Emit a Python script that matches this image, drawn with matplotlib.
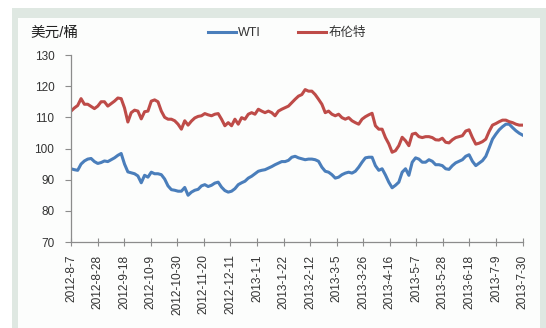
import matplotlib
matplotlib.use("Agg")
import matplotlib.pyplot as plt
from matplotlib.patches import Rectangle
import pandas as pd

plt.rcParams['font.family'] = ['Liberation Sans', 'Noto Sans CJK SC', 'DejaVu Sans']

# Daily closing prices (USD/bbl), evenly spaced samples over the period
start_date = "2012-08-07"
end_date = "2013-07-30"

wti = [
    93.5, 93.2, 93.0, 95.0, 96.0, 96.6, 96.8, 95.8, 95.2, 95.5,
    96.0, 95.8, 96.4, 97.0, 97.8, 98.4, 95.0, 92.5, 92.2, 91.9,
    91.2, 89.0, 91.4, 90.8, 92.4, 91.9, 91.9, 91.6, 90.2, 88.0,
    86.8, 86.6, 86.3, 86.3, 87.5, 85.0, 86.0, 86.6, 86.9, 88.0,
    88.4, 87.8, 88.2, 88.9, 89.2,
    87.6, 86.5, 86.0, 86.3, 87.1, 88.4, 89.0, 89.5, 90.5, 91.1,
    91.9, 92.7, 93.0, 93.2, 93.7, 94.2, 94.8, 95.3, 95.8, 95.8,
    96.2, 97.2, 97.5, 97.0, 96.7, 96.4, 96.6, 96.6, 96.4, 95.9,
    94.0, 92.7, 92.4, 91.6, 90.5, 90.8, 91.6, 92.1, 92.4, 92.1,
    92.7, 94.0, 95.6,
    97.0, 97.2, 97.2, 94.5, 93.0, 93.5, 91.5, 89.2, 87.4, 88.2,
    89.2, 92.4, 93.5, 91.4, 95.6, 97.0, 96.6, 95.6, 95.6, 96.4,
    95.9, 94.8, 94.8, 94.5, 93.5, 93.3, 94.5, 95.4, 95.9, 96.4,
    97.5, 98.0, 95.9, 94.5, 95.3, 96.1, 97.5, 100.2, 103.0, 104.6,
    106.0, 107.0, 107.8, 107.8, 106.7, 105.7, 104.9, 104.3,
]

brent = [
    112.0, 113.0, 113.8, 116.0, 114.2, 114.2, 113.5, 112.8, 113.6, 115.0,
    115.0, 113.6, 114.4, 115.2, 116.2, 116.0, 113.0, 108.5, 111.5, 112.3,
    112.0, 109.5, 111.8, 112.0, 115.2, 115.6, 115.0, 112.0, 110.0, 109.4,
    109.4, 108.9, 107.8, 106.2, 108.9, 107.5, 108.8, 109.8, 110.3, 110.5,
    111.2, 110.8, 110.5, 111.0, 111.2,
    109.4, 107.3, 108.3, 107.3, 109.4, 107.8, 109.9, 109.4, 111.0, 111.5,
    111.0, 112.6, 112.0, 111.5, 112.0, 111.5, 110.5, 112.0, 112.6, 113.1,
    113.6, 114.7, 115.8, 116.8, 117.3, 118.9, 118.4, 118.4, 117.3, 115.8,
    114.2, 111.5, 112.0, 111.0, 110.5, 111.0, 109.9, 109.4, 109.9, 108.9,
    108.3, 107.8, 109.4,
    110.2, 110.8, 111.3, 107.3, 106.2, 106.2, 103.5, 101.5, 98.8, 99.3,
    100.9, 103.6, 102.5, 100.9, 104.6, 104.9, 103.8, 103.5, 103.8, 103.8,
    103.5, 102.8, 102.7, 103.3, 102.0, 101.8, 102.8, 103.5, 103.8, 104.1,
    105.6, 106.0, 103.5, 101.4, 101.7, 102.2, 103.0, 105.5, 107.5, 108.0,
    108.6, 109.1, 109.1, 108.6, 108.3, 107.8, 107.5, 107.5,
]

tick_labels = [
    "2012-8-7", "2012-8-28", "2012-9-18", "2012-10-9", "2012-10-30",
    "2012-11-20", "2012-12-11", "2013-1-1", "2013-1-22", "2013-2-12",
    "2013-3-5", "2013-3-26", "2013-4-16", "2013-5-7", "2013-5-28",
    "2013-6-18", "2013-7-9", "2013-7-30",
]

series_names = ["WTI", "布伦特"]
y_ticks = [70, 80, 90, 100, 110, 120, 130]

W, H = 546, 328
fig = plt.figure(figsize=(W / 100, H / 100), dpi=100)
fig.patch.set_facecolor("white")

# Framed panel behind the chart
fig.patches.append(Rectangle((12 / W, 0), 1 - 12 / W, 1 - 8 / H,
                             transform=fig.transFigure, facecolor="#dfe8e2",
                             edgecolor="none", zorder=-10))
fig.patches.append(Rectangle((18 / W, 0), 522 / W, 1 - 18 / H,
                             transform=fig.transFigure, facecolor="#fcfdfc",
                             edgecolor="none", zorder=-9))

ax = fig.add_axes([71 / W, 1 - 242 / H, (522.6 - 71) / W, (242 - 55) / H])
ax.set_facecolor("none")

dates = pd.date_range(start_date, end_date, periods=len(wti))
ax.plot(dates, wti, color="#4a7ebb", lw=2.2, label=series_names[0],
        solid_joinstyle="round")
ax.plot(dates, brent, color="#be4b48", lw=2.2, label=series_names[1],
        solid_joinstyle="round")

tick_dates = pd.to_datetime(tick_labels, format="%Y-%m-%d")
ax.set_xlim(tick_dates[0], tick_dates[-1])
ax.set_xticks(tick_dates)
ax.set_xticklabels(tick_labels, rotation=90, fontsize=8.6, color="#333333")
ax.set_ylim(70, 130)
ax.set_yticks(y_ticks)
ax.set_yticklabels([str(v) for v in y_ticks], fontsize=8.5, color="#333333")

for s in ["top", "right"]:
    ax.spines[s].set_visible(False)
for s in ["left", "bottom"]:
    ax.spines[s].set_color("#8c8c8c")
    ax.spines[s].set_linewidth(0.9)
ax.tick_params(axis="y", direction="out", length=4, width=0.8,
               color="#8c8c8c", pad=8)
ax.tick_params(axis="x", direction="inout", length=6, width=0.8,
               color="#8c8c8c", pad=6)

fig.text(30 / W, 1 - 33 / H, "美元/桶", fontsize=10.5, color="#222222",
         va="center", ha="left")

fig.legend(loc="center", bbox_to_anchor=(287 / W, 1 - 33 / H), ncol=2,
           frameon=False, fontsize=9, handlelength=2.2, handletextpad=0.2,
           columnspacing=3.0, labelcolor="#333333")

fig.savefig("out.png", dpi=100, facecolor=fig.get_facecolor())
